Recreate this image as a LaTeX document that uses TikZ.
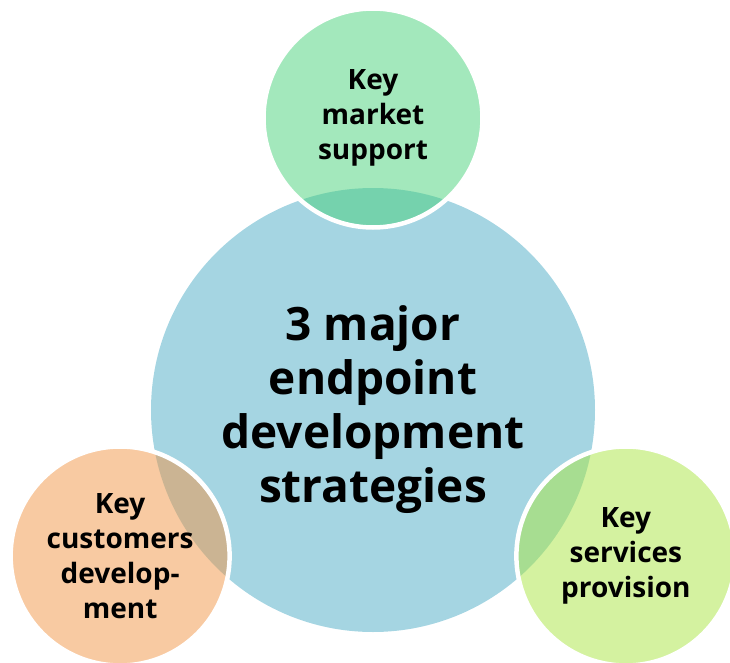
\documentclass[tikz,border=0pt]{standalone}
\usepackage{fontspec}
\setmainfont{Open Sans}
\usepackage{tikz}
\usetikzlibrary{shapes,positioning}

\definecolor{coreblue}{HTML}{A5D5E2}
\definecolor{marketgreen}{HTML}{47D179}
\definecolor{custorange}{HTML}{F19545}
\definecolor{servlime}{HTML}{A9E541}

\tikzset{
	core/.style={circle, fill=coreblue, minimum size=444pt, inner sep=0pt, align=center,
		font=\bfseries\fontsize{46}{54}\selectfont},
	petal/.style={circle, draw=white, line width=4.5pt, fill opacity=0.5, text opacity=1,
		minimum size=219pt, inner sep=0pt, align=center,
		font=\bfseries\fontsize{28}{35}\selectfont}
}

\begin{document}
\begin{tikzpicture}
	% Define distance from centre to petals
	\def \dist {292pt}
	% Fix canvas
	\useasboundingbox (-373pt,-252pt) rectangle (357pt,410pt);
	% Draw centre circle
	\node[core] (strategies) at (0,0) {3 major\\endpoint\\development\\strategies};
	% Draw petals
	\node[petal, fill=marketgreen] (market) at ({90}:\dist) {Key\\market\\support};
	\node[petal, fill=custorange] (customers) at ({210}:\dist) {Key\\customers\\develop-\\ment};
	\node[petal, fill=servlime] (services) at ({330}:\dist) {Key\\services\\provision};
\end{tikzpicture}
\end{document}
